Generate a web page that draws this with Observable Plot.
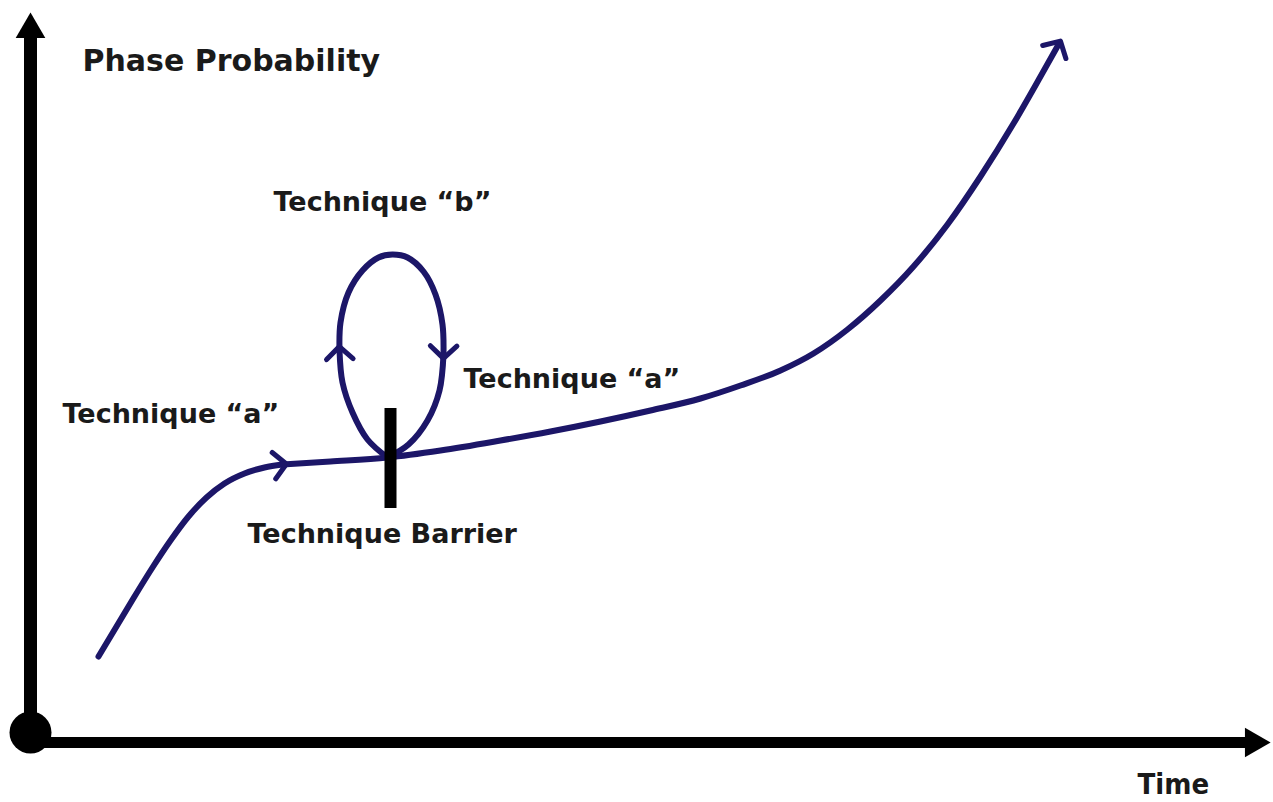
<!DOCTYPE html>
<html>
<head>
<meta charset="utf-8">
<script src="https://cdn.jsdelivr.net/npm/d3@7"></script>
<script src="https://cdn.jsdelivr.net/npm/@observablehq/plot@0.6"></script>
<style>
  html, body { margin: 0; padding: 0; background: #ffffff; }
  svg { display: block; }
</style>
</head>
<body>
<div id="chart"></div>
<script>
// ---- Data (time t, phase probability p; origin at the axes corner) ----
// Main path, first part (ends at the "a" arrow)
const path1T = [68, 86, 104, 122, 140, 158, 176, 194, 214, 234, 252];
const path1P = [86, 116, 146, 175, 202, 226, 245, 259, 269, 275, 278];
// Main path, second part (to the final arrow)
const path2T = [252, 300, 357, 410, 470, 520, 570, 620, 670, 710, 750, 783, 817, 850, 883, 917, 950, 983, 1010, 1028];
const path2P = [278, 281, 285, 292, 302, 311, 321, 332, 344, 357, 372, 389, 413, 442, 476, 518, 566, 619, 666, 698];
// Technique "b" loop: up the left side, over the top, down the right side
const loopUpT = [357, 337, 322, 312, 309];
const loopUpP = [285, 303, 330, 360, 392];
const loopTopT = [309, 310, 318, 332, 348, 362, 377, 393, 405, 412, 413];
const loopTopP = [392, 420, 450, 472, 485, 488, 485, 471, 448, 418, 388];
const loopDownT = [413, 409, 397, 378, 357];
const loopDownP = [388, 352, 322, 298, 285];
// Technique barrier
const barrierT = 360;
const barrierP = [234, 334];
// Axes extents
const axisTimeEnd = 1223;
const axisProbEnd = 713;
// Labels
const labelText = ["Phase Probability", "Technique \u201cb\u201d", "Technique \u201ca\u201d", "Technique \u201ca\u201d", "Technique Barrier"];
const labelT = [52, 243, 433, 32, 217];
const labelP = [672, 532, 355, 320, 200];
const labelSize = [30, 27, 27, 27, 27];
const timeLabel = "Time";
const timeT = 1107, timeP = -51;

// ---- Build tables ----
const toRows = (T, P) => T.map((t, i) => ({t, p: P[i]}));
const path1 = toRows(path1T, path1P);
const path2 = toRows(path2T, path2P);
const loopUp = toRows(loopUpT, loopUpP);
const loopTop = toRows(loopTopT, loopTopP);
const loopDown = toRows(loopDownT, loopDownP);
const labels = labelText.map((s, i) => ({s, t: labelT[i], p: labelP[i], size: labelSize[i]}));

const navy = "#1c1668";
const ink = "#1a1a1a";
const font = "DejaVu Sans, Verdana, sans-serif";
const lw = 6;

// chevron arrowhead marker (scaled with stroke width)
const chevron = (color) => d3.create("svg:marker")
  .attr("viewBox", "-5 -5 10 10")
  .attr("markerWidth", 6.5)
  .attr("markerHeight", 6.5)
  .attr("orient", "auto")
  .attr("fill", "none")
  .attr("stroke", color)
  .attr("stroke-width", 1.3)
  .attr("stroke-linecap", "round")
  .attr("stroke-linejoin", "round")
  .call(m => m.append("path").attr("d", "M-2.2,-3.4L1,0L-2.2,3.4"))
  .node();

const lineOpts = {x: "t", y: "p", stroke: navy, strokeWidth: lw};

const chart = Plot.plot({
  width: 1273,
  height: 802,
  margin: 0,
  style: {background: "#ffffff"},
  x: {domain: [-30, 1243], axis: null},
  y: {domain: [-60, 742], axis: null},
  marks: [
    // axes
    Plot.ruleX([0], {y1: 10, y2: axisProbEnd, stroke: "black", strokeWidth: 13}),
    Plot.ruleY([0], {x1: 0, x2: axisTimeEnd, stroke: "black", strokeWidth: 11}),
    Plot.dot([{t: 0, p: axisProbEnd}], {x: "t", y: "p", symbol: "triangle", r: 11, fill: "black", stroke: null}),
    Plot.dot([{t: axisTimeEnd, p: 0}], {x: "t", y: "p", symbol: "triangle", r: 11, rotate: 90, fill: "black", stroke: null}),
    Plot.dot([{t: 0, p: 10}], {x: "t", y: "p", r: 21, fill: "black", stroke: null}),
    // main path
    Plot.line(path1, {...lineOpts, curve: "monotone-x", markerEnd: chevron}),
    Plot.line(path2, {...lineOpts, curve: "monotone-x", markerEnd: chevron}),
    // loop
    Plot.line(loopUp, {...lineOpts, curve: "catmull-rom", markerEnd: chevron}),
    Plot.line(loopTop, {...lineOpts, curve: "catmull-rom", markerEnd: chevron}),
    Plot.line(loopDown, {...lineOpts, curve: "catmull-rom"}),
    // barrier
    Plot.ruleX([barrierT], {y1: barrierP[0], y2: barrierP[1], stroke: "black", strokeWidth: 12}),
    // labels
    Plot.text(labels, {x: "t", y: "p", text: "s", fontSize: "size", textAnchor: "start", lineAnchor: "bottom",
      fill: ink, fontFamily: font, fontWeight: "bold"}),
    Plot.text([timeLabel], {x: () => timeT, y: () => timeP, text: d => d, fontSize: 29, textAnchor: "start", lineAnchor: "bottom",
      fill: ink, fontFamily: "DejaVu Sans Condensed, Liberation Sans Narrow, sans-serif", fontWeight: "bold"})
  ]
});
document.getElementById("chart").appendChild(chart);
</script>
</body>
</html>
